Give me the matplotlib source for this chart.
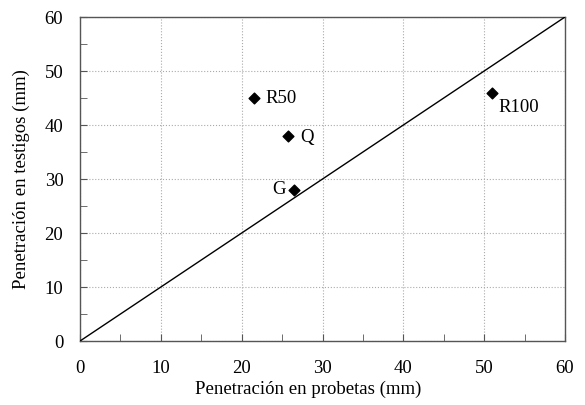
import matplotlib
matplotlib.use("Agg")
import matplotlib.pyplot as plt
from matplotlib.ticker import MultipleLocator

plt.rcParams['font.family'] = ['Liberation Serif', 'DejaVu Serif']

# data
labels = ["R50", "Q", "G", "R100"]
probetas = [21.5, 25.7, 26.5, 51.0]
testigos = [45.0, 38.0, 28.0, 46.0]
# label offsets in pixels and alignment
label_offsets = [(12, 0, 'left'), (12, -2, 'left'), (-8, 0, 'right'), (6, -15, 'left')]
line_x = [0, 60]
line_y = [0, 60]

fig = plt.figure(figsize=(5.85, 4.05), dpi=100)
ax = fig.add_axes([0.1368, 0.158, 0.829, 0.800])

ax.plot(line_x, line_y, color='black', lw=1.0, zorder=3)
ax.scatter(probetas, testigos, marker='D', s=30, color='black', zorder=4)
for lab, x, y, (dx, dy, ha) in zip(labels, probetas, testigos, label_offsets):
    ax.annotate(lab, (x, y), xytext=(dx, dy), textcoords='offset pixels',
                fontsize=13.5, va='center', ha=ha)

ax.set_xlim(0, 60)
ax.set_ylim(0, 60)
ax.xaxis.set_major_locator(MultipleLocator(10))
ax.yaxis.set_major_locator(MultipleLocator(10))
ax.xaxis.set_minor_locator(MultipleLocator(5))
ax.yaxis.set_minor_locator(MultipleLocator(5))
ax.tick_params(which='both', direction='in', labelsize=13.5, color='#555555', length=5)
ax.tick_params(axis='x', pad=14)
ax.tick_params(axis='y', pad=12)
ax.grid(True, which='major', color='#aaaaaa', linestyle=':', linewidth=0.8)
for s in ax.spines.values():
    s.set_color('#555555')
    s.set_linewidth(1.0)

ax.set_xlabel("Penetración en probetas (mm)", fontsize=13.5)
ax.set_ylabel("Penetración en testigos (mm)", fontsize=13.5)
ax.xaxis.set_label_coords(0.47, -0.121)
ax.yaxis.set_label_coords(-0.104, 0.5)

fig.savefig("out.png", dpi=100)
